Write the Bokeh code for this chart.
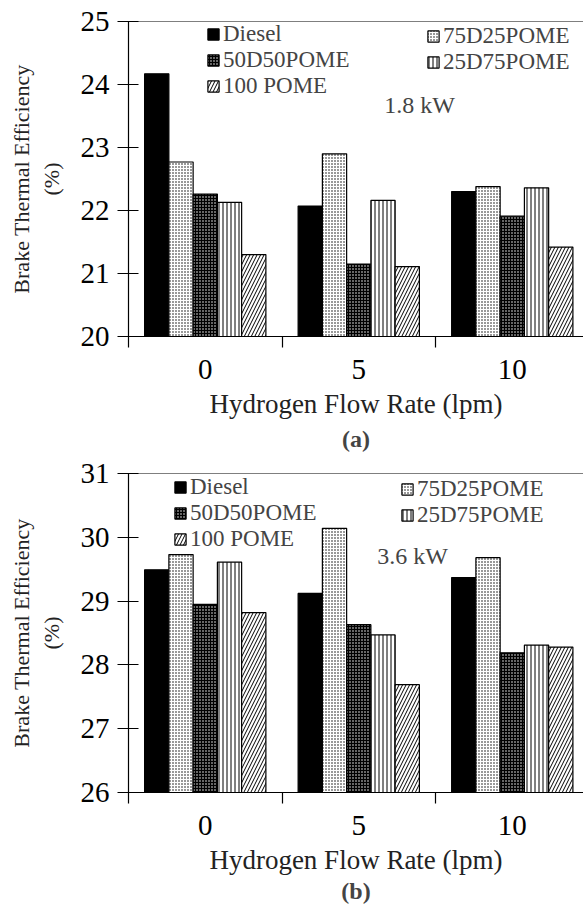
from bokeh.plotting import figure
from bokeh.models import Range1d, FixedTicker, Legend, LegendItem, Span, Label, Title
from bokeh.layouts import column
from bokeh.embed import file_html
from bokeh.resources import INLINE

# ---- data ----
flow_rates = ["0", "5", "10"]
series = ["Diesel", "75D25POME", "50D50POME", "25D75POME", "100 POME"]

# (a) 1.8 kW
diesel_a = [24.17, 22.07, 22.30]
d75_a = [22.77, 22.90, 22.38]
d50_a = [22.26, 21.15, 21.91]
d25_a = [22.13, 22.16, 22.36]
pome_a = [21.30, 21.11, 21.42]

# (b) 3.6 kW
diesel_b = [29.49, 29.12, 29.37]
d75_b = [29.73, 30.14, 29.68]
d50_b = [28.95, 28.63, 28.19]
d25_b = [29.61, 28.47, 28.31]
pome_b = [28.82, 27.69, 28.28]

yticks_a = [20, 21, 22, 23, 24, 25]
yticks_b = [26, 27, 28, 29, 30, 31]

FONT = "Liberation Serif"
BAR_W = 0.158

styles = [
    dict(fill_color="black"),
    dict(fill_color="white", hatch_pattern=".", hatch_color="black", hatch_scale=3, hatch_weight=1),
    dict(fill_color="black", hatch_pattern=".", hatch_color="white", hatch_scale=3, hatch_weight=1),
    dict(fill_color="white", hatch_pattern="|", hatch_color="black", hatch_scale=4, hatch_weight=1),
    dict(fill_color="white", hatch_pattern="/", hatch_color="black", hatch_scale=7, hatch_weight=1),
]


def make_panel(values, yticks, height, top, bottom, power, power_xy, tag, tag_standoff,
               leg1, leg2):
    n = len(flow_rates)
    p = figure(width=583, height=height, output_backend="svg", toolbar_location=None,
               x_range=Range1d(0, 2.964), y_range=Range1d(yticks[0], yticks[-1]),
               min_border_left=128, min_border_right=0, min_border_top=top,
               min_border_bottom=bottom)
    p.outline_line_color = None
    p.xgrid.grid_line_color = None
    p.ygrid.grid_line_color = None
    p.background_fill_color = "white"

    renderers = []
    for j, (vals, st) in enumerate(zip(values, styles)):
        xs = [i + 0.5 + (j - 2) * BAR_W for i in range(n)]
        r = p.vbar(x=xs, top=vals, width=BAR_W, bottom=yticks[0] - 1,
                   line_color="black", line_width=1.2, **st)
        renderers.append(r)

    p.add_layout(Span(location=yticks[-1], dimension="width", line_color="black", line_width=1.2))

    # y axis
    p.yaxis.ticker = FixedTicker(ticks=yticks, minor_ticks=[])
    p.yaxis.major_tick_in = 10
    p.yaxis.major_tick_out = 11
    p.yaxis.major_label_standoff = 8
    p.yaxis.axis_label = "Brake Thermal Efficiency\n(%)"
    p.yaxis.axis_label_standoff = 14
    p.yaxis.axis_label_text_font_size = "22px"
    # x axis
    centers = [i + 0.5 for i in range(n)]
    p.xaxis.ticker = FixedTicker(ticks=centers, minor_ticks=[float(i) for i in range(n + 1)])
    p.xaxis.major_label_overrides = {c: lab for c, lab in zip(centers, flow_rates)}
    p.xaxis.major_tick_in = 0
    p.xaxis.major_tick_out = 0
    p.xaxis.minor_tick_in = 0
    p.xaxis.minor_tick_out = 11
    p.xaxis.major_label_standoff = 12
    p.xaxis.axis_label = "Hydrogen Flow Rate (lpm)"
    p.xaxis.axis_label_standoff = 7
    p.xaxis.axis_label_text_font_size = "27px"

    for ax in (p.xaxis, p.yaxis):
        ax.axis_line_color = "black"
        ax.axis_line_width = 1.2
        ax.major_tick_line_color = "black"
        ax.major_tick_line_width = 1.2
        ax.minor_tick_line_color = "black"
        ax.minor_tick_line_width = 1.2
        ax.major_label_text_font = FONT
        ax.major_label_text_font_size = "29px"
        ax.major_label_text_color = "black"
        ax.axis_label_text_font = FONT
        ax.axis_label_text_font_style = "normal"
        ax.axis_label_text_color = "#222222"

    # legends (two columns)
    col1 = [0, 2, 4]
    col2 = [1, 3]
    for idxs, loc in ((col1, leg1), (col2, leg2)):
        lg = Legend(items=[LegendItem(label=series[k], renderers=[renderers[k]]) for k in idxs],
                    location=loc, border_line_color=None, background_fill_alpha=0,
                    padding=0, spacing=-3, margin=0, glyph_width=14, glyph_height=14,
                    label_standoff=3, label_height=22,
                    label_text_font=FONT, label_text_font_size="23px")
        p.add_layout(lg)

    p.add_layout(Label(x=power_xy[0], y=power_xy[1], text=power, text_font=FONT,
                       text_font_size="24px", text_align="center", text_baseline="middle"))
    p.add_layout(Title(text=tag, align="center", offset=-55, standoff=tag_standoff,
                       text_font=FONT, text_font_style="bold", text_font_size="24px"), "below")
    return p


pa = make_panel([diesel_a, d75_a, d50_a, d25_a, pome_a], yticks_a, 455, 21, 119,
                "1.8 kW", (1.896, 23.67), "(a)", 5, (78, 237), (298, 261))
pb = make_panel([diesel_b, d75_b, d50_b, d25_b, pome_b], yticks_b, 455, 18, 118,
                "3.6 kW", (1.85, 29.70), "(b)", -3, (45, 240), (272, 264))

layout = column(pa, pb, spacing=0)
open("out.html", "w").write(file_html(layout, INLINE))
